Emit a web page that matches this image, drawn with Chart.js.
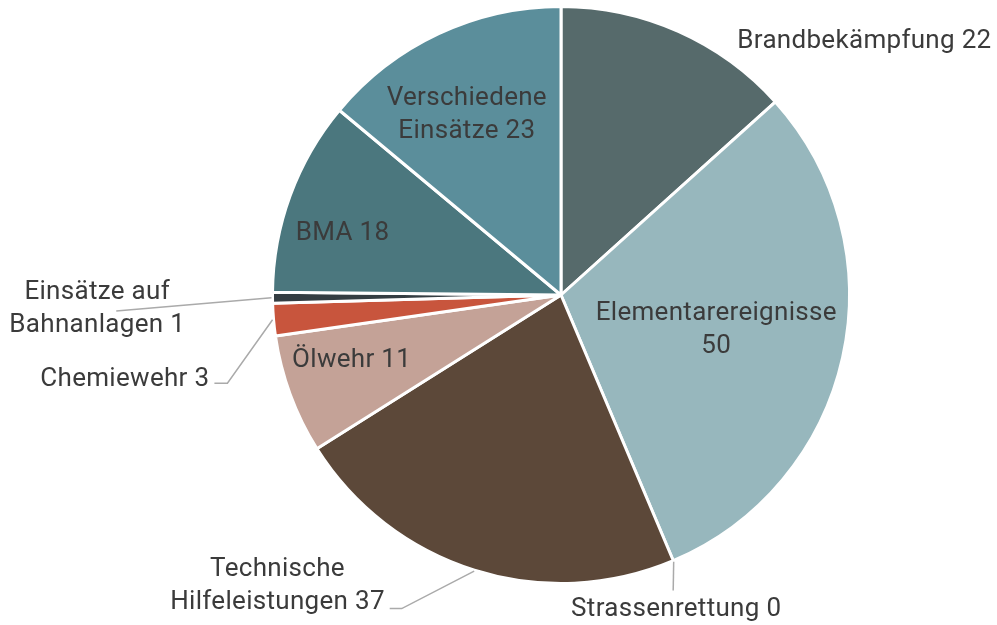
<!DOCTYPE html>
<html>
<head>
<meta charset="utf-8">
<script src="https://cdn.jsdelivr.net/npm/chart.js@4"></script>
<style>
  html, body { margin: 0; padding: 0; background: #fff; }
  #wrap { width: 997px; height: 625px; }
</style>
</head>
<body>
<div id="wrap"><canvas id="chart" width="997" height="625"></canvas></div>
<script>
const categories = [
  "Brandbekämpfung",
  "Elementarereignisse",
  "Strassenrettung",
  "Technische Hilfeleistungen",
  "Ölwehr",
  "Chemiewehr",
  "Einsätze auf Bahnanlagen",
  "BMA",
  "Verschiedene Einsätze",
];
const values = [22, 50, 0, 37, 11, 3, 1, 18, 23];
const colors = [
  "#566a6b",
  "#97b7bd",
  "#97b7bd",
  "#5c4839",
  "#c4a297",
  "#c8553d",
  "#343d42",
  "#4b777e",
  "#5b8e9b",
];

// label text lines, split like in the original
const labelLines = [
  ["Brandbekämpfung 22"],
  ["Elementarereignisse", "50"],
  ["Strassenrettung 0"],
  ["Technische", "Hilfeleistungen 37"],
  ["Ölwehr 11"],
  ["Chemiewehr 3"],
  ["Einsätze auf", "Bahnanlagen 1"],
  ["BMA 18"],
  ["Verschiedene", "Einsätze 23"],
];

// where each label goes, in px from the pie centre (for a radius of 288)
const layout = [
  { x: 176, y: -253, align: "left" },
  { x: 155, y: 18, align: "center" },
  { x: 115, y: 314, align: "center", leader: [[112, 295]] },
  { x: -283, y: 274, align: "center", leader: [[-159, 313], [-171, 313]] },
  { x: -209, y: 65, align: "center" },
  { x: -351, y: 84, align: "right", leader: [[-333, 88], [-346, 88]] },
  { x: -463, y: -2, align: "center", leader: [[-444, 16]] },
  { x: -218, y: -61, align: "center" },
  { x: -94, y: -196, align: "center" },
];

const pieLabels = {
  id: "pieLabels",
  afterDatasetsDraw(chart) {
    const ctx = chart.ctx;
    const arcs = chart.getDatasetMeta(0).data;
    ctx.save();
    ctx.font = "26px Roboto";
    ctx.letterSpacing = "0.3px";
    ctx.fillStyle = "#3b3b3b";
    ctx.textBaseline = "middle";
    arcs.forEach((arc, i) => {
      const { x, y, startAngle, endAngle, outerRadius } = arc.getProps(
        ["x", "y", "startAngle", "endAngle", "outerRadius"], true);
      const k = outerRadius / 288;
      const l = layout[i];
      if (l.leader) {
        const mid = (startAngle + endAngle) / 2;
        ctx.beginPath();
        ctx.strokeStyle = "#aaaaaa";
        ctx.lineWidth = 1.5;
        ctx.moveTo(x + Math.cos(mid) * (outerRadius + 1), y + Math.sin(mid) * (outerRadius + 1));
        l.leader.forEach((p) => ctx.lineTo(x + p[0] * k, y + p[1] * k));
        ctx.stroke();
      }
      ctx.textAlign = l.align;
      labelLines[i].forEach((t, j) => {
        ctx.fillText(t, x + l.x * k, y + l.y * k + j * 33);
      });
    });
    ctx.restore();
  },
};

new Chart(document.getElementById("chart"), {
  type: "pie",
  data: {
    labels: categories,
    datasets: [
      {
        data: values,
        backgroundColor: colors,
        borderColor: "#ffffff",
        borderWidth: 3,
      },
    ],
  },
  options: {
    responsive: false,
    animation: false,
    layout: {
      padding: { left: 271, right: 146, top: 5, bottom: 40 },
    },
    plugins: {
      legend: { display: false },
      tooltip: { enabled: false },
    },
  },
  plugins: [pieLabels],
});
</script>
</body>
</html>
